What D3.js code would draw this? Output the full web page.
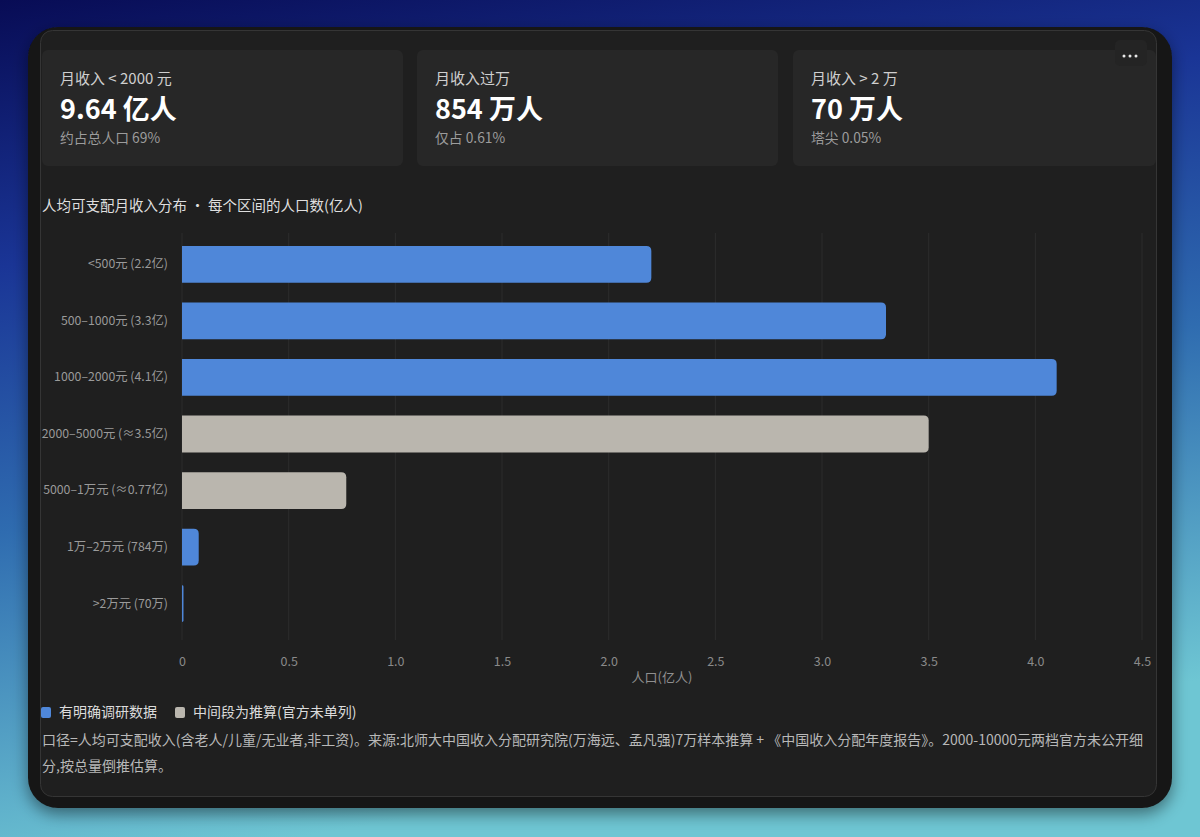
<!DOCTYPE html>
<html>
<head>
<meta charset="utf-8">
<script src="https://cdn.jsdelivr.net/npm/d3@7/dist/d3.min.js"></script>
<style>
  html, body { margin: 0; padding: 0; background: #0a0e5a; }
  svg { display: block; }
  text { font-family: "Noto Sans CJK SC", "Noto Sans", sans-serif; }
</style>
</head>
<body>
<svg id="chart" width="1200" height="837"></svg>
<script>
// ---------- data ----------
const categories = [
  "<500元 (2.2亿)",
  "500–1000元 (3.3亿)",
  "1000–2000元 (4.1亿)",
  "2000–5000元 (≈3.5亿)",
  "5000–1万元 (≈0.77亿)",
  "1万–2万元 (784万)",
  ">2万元 (70万)"
];
const values = [2.2, 3.3, 4.1, 3.5, 0.77, 0.0784, 0.007];
const estimated = [false, false, false, true, true, false, false];
const xTicks = [0, 0.5, 1.0, 1.5, 2.0, 2.5, 3.0, 3.5, 4.0, 4.5];

const cardLabels = ["月收入 < 2000 元", "月收入过万", "月收入 > 2 万"];
const cardValues = ["9.64 亿人", "854 万人", "70 万人"];
const cardNotes = ["约占总人口 69%", "仅占 0.61%", "塔尖 0.05%"];

const chartTitle = "人均可支配月收入分布 · 每个区间的人口数(亿人)";
const xAxisTitle = "人口(亿人)";
const legendLabels = ["有明确调研数据", "中间段为推算(官方未单列)"];
const footnoteLines = [
  "口径=人均可支配收入(含老人/儿童/无业者,非工资)。来源:北师大中国收入分配研究院(万海远、孟凡强)7万样本推算 + 《中国收入分配年度报告》。2000-10000元两档官方未公开细",
  "分,按总量倒推估算。"
];

// ---------- styles ----------
const BLUE = "#4f87d9";
const GRAY = "#bab6ae";

const svg = d3.select("#chart");
const defs = svg.append("defs");

// background gradient
const bg = defs.append("linearGradient").attr("id", "bg").attr("x1", 0).attr("y1", 0).attr("x2", 0.25).attr("y2", 1);
bg.append("stop").attr("offset", "0").attr("stop-color", "#080c55");
bg.append("stop").attr("offset", "0.3").attr("stop-color", "#1a3596");
bg.append("stop").attr("offset", "0.6").attr("stop-color", "#2f6cb0");
bg.append("stop").attr("offset", "1").attr("stop-color", "#6ec6d3");
svg.append("rect").attr("width", 1200).attr("height", 837).attr("fill", "url(#bg)");

// shadow
const f = defs.append("filter").attr("id", "shadow").attr("x", "-10%").attr("y", "-10%").attr("width", "120%").attr("height", "125%");
f.append("feDropShadow").attr("dx", 0).attr("dy", 6).attr("stdDeviation", 8).attr("flood-color", "#000").attr("flood-opacity", 0.45);

// outer frame
svg.append("rect").attr("x", 28).attr("y", 27).attr("width", 1144).attr("height", 781)
  .attr("rx", 30).attr("fill", "#171717").attr("filter", "url(#shadow)");
// inner panel
svg.append("rect").attr("x", 40.5).attr("y", 30.5).attr("width", 1116).attr("height", 766)
  .attr("rx", 12).attr("fill", "#1f1f1f").attr("stroke", "#353535").attr("stroke-width", 1);

// ---------- cards ----------
const cardX = [42, 417, 793];
const cardW = [361, 361, 363];
cardX.forEach((cx, i) => {
  const g = svg.append("g");
  g.append("rect").attr("x", cx).attr("y", 50).attr("width", cardW[i]).attr("height", 116)
    .attr("rx", 6).attr("fill", "#272727");
  g.append("text").attr("x", cx + 18).attr("y", 84).attr("font-size", 15).attr("fill", "#cfcfcf").text(cardLabels[i]);
  g.append("text").attr("x", cx + 18).attr("y", 119).attr("font-size", 27).attr("font-weight", 700).attr("fill", "#ffffff").text(cardValues[i]);
  g.append("text").attr("x", cx + 18).attr("y", 143).attr("font-size", 13.8).attr("fill", "#9c9c9c").text(cardNotes[i]);
});

// "..." button
svg.append("rect").attr("x", 1115).attr("y", 40).attr("width", 32).attr("height", 26).attr("rx", 5).attr("fill", "#242424");
[-6, 0, 6].forEach(d => {
  svg.append("circle").attr("cx", 1130 + d).attr("cy", 56).attr("r", 1.5).attr("fill", "#e8e8e8");
});

// ---------- chart ----------
svg.append("text").attr("x", 42).attr("y", 211).attr("font-size", 14.5).attr("fill", "#dedede").text(chartTitle);

const x = d3.scaleLinear().domain([0, 4.5]).range([182, 1142]);
const y = d3.scaleBand().domain(categories).range([227, 641]).paddingInner(0.35).paddingOuter(0.336);

// grid
const gridTop = 233, gridBottom = 640;
svg.append("g").selectAll("line").data(xTicks).join("line")
  .attr("x1", d => x(d)).attr("x2", d => x(d))
  .attr("y1", gridTop).attr("y2", gridBottom)
  .attr("stroke", "#2d2d2d").attr("stroke-width", 1);

// x axis labels
const xAxis = d3.axisBottom(x).tickValues(xTicks).tickSize(0).tickPadding(0)
  .tickFormat(d => d === 0 ? "0" : d3.format(".1f")(d));
const xg = svg.append("g").attr("transform", `translate(0,${gridBottom + 17})`).call(xAxis);
xg.select(".domain").remove();
xg.selectAll("text").attr("font-size", 12.5).attr("fill", "#8a8a8a")
  .attr("font-family", "\"Noto Sans\", \"Noto Sans CJK SC\", sans-serif");

svg.append("text").attr("x", (x(0) + x(4.5)) / 2).attr("y", 682).attr("text-anchor", "middle")
  .attr("font-size", 13).attr("fill", "#8f8f8f").text(xAxisTitle);

// y axis labels
const yAxis = d3.axisLeft(y).tickSize(0).tickPadding(0);
const yg = svg.append("g").attr("transform", `translate(168,0)`).call(yAxis);
yg.select(".domain").remove();
yg.selectAll("text").attr("font-size", 12.3).attr("fill", "#9a9a9a")
  .attr("font-family", "\"Noto Sans CJK SC\", sans-serif");

// bars with rounded right corners
function barPath(x0, y0, w, h, r) {
  r = Math.min(r, w, h / 2);
  return `M${x0},${y0}H${x0 + w - r}Q${x0 + w},${y0} ${x0 + w},${y0 + r}V${y0 + h - r}Q${x0 + w},${y0 + h} ${x0 + w - r},${y0 + h}H${x0}Z`;
}
const barsData = categories.map((c, i) => ({ c, v: values[i], est: estimated[i] }));
svg.append("g").selectAll("path").data(barsData).join("path")
  .attr("d", d => barPath(x(0), y(d.c), Math.max(1, x(d.v) - x(0)), y.bandwidth(), 5))
  .attr("fill", d => d.est ? GRAY : BLUE);

// ---------- legend ----------
const legendColors = [BLUE, GRAY];
const legendX = [41, 175];
legendLabels.forEach((l, i) => {
  svg.append("rect").attr("x", legendX[i]).attr("y", 707).attr("width", 10).attr("height", 11)
    .attr("rx", 2).attr("fill", legendColors[i]);
  svg.append("text").attr("x", legendX[i] + 18).attr("y", 717).attr("font-size", 14).attr("fill", "#dcdcdc").text(l);
});

// ---------- footnote ----------
footnoteLines.forEach((t, i) => {
  svg.append("text").attr("x", 42).attr("y", 745 + i * 26).attr("font-size", 14).attr("fill", "#b8b8b8").text(t);
});
</script>
</body>
</html>
